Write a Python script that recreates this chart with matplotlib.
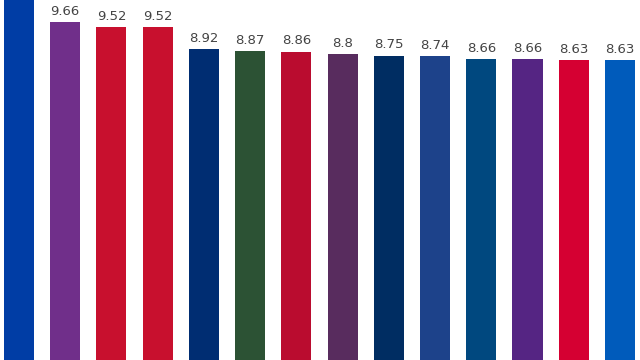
import matplotlib
matplotlib.use("Agg")
import matplotlib.pyplot as plt

categories = [f"Item {i+1}" for i in range(14)]
values = [10.6, 9.66, 9.52, 9.52, 8.92, 8.87, 8.86, 8.8, 8.75, 8.74, 8.66, 8.66, 8.63, 8.63]
labels = ["10.6", "9.66", "9.52", "9.52", "8.92", "8.87", "8.86", "8.8", "8.75", "8.74", "8.66", "8.66", "8.63", "8.63"]
colors = ["#003DA5", "#702F8A", "#C8102E", "#C8102E", "#002D72", "#2C5234", "#BA0C2F",
          "#582C5E", "#002D62", "#1D428A", "#00487F", "#552583", "#D50032", "#005BBB"]

fig = plt.figure(figsize=(6.4, 3.6), dpi=100)
ax = fig.add_axes([0, 0, 1, 1])
x = list(range(len(values)))
bars = ax.bar(x, values, width=0.65, color=colors)
for xi, v, lab in zip(x, values, labels):
    ax.annotate(lab, (xi, v), xytext=(0, 3), textcoords="offset points",
                ha="center", va="bottom", fontsize=9.5, color="#444444")
ax.set_xlim(-0.411, 13.433)
ax.set_ylim(0.5, 10.256)
ax.axis("off")
fig.savefig("out.png", dpi=100)
